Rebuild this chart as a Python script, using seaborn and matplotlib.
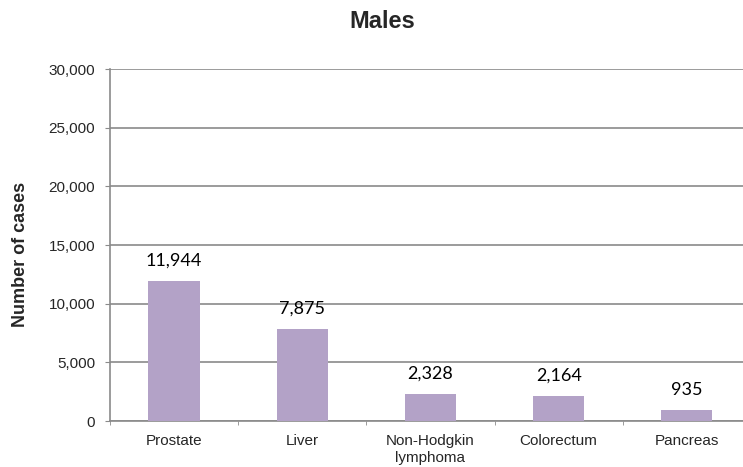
import matplotlib
matplotlib.use('Agg')
import matplotlib.pyplot as plt
import seaborn as sns
import pandas as pd
from matplotlib.ticker import FuncFormatter, FixedLocator

# Data
sites = ['Prostate', 'Liver', 'Non-Hodgkin\nlymphoma', 'Colorectum', 'Pancreas']
cases = [11944, 7875, 2328, 2164, 935]

df = pd.DataFrame({'site': sites, 'cases': cases})

sns.set_style('white')
plt.rcParams['font.family'] = ['Liberation Sans', 'DejaVu Sans']

fig = plt.figure(figsize=(7.43, 4.67), dpi=100)
# axes runs a little past the right edge, like the reference crop
ax = fig.add_axes([0.148, 0.0985, 0.8627, 0.7537])

sns.barplot(data=df, x='site', y='cases', color='#B3A2C7', saturation=1,
            width=0.40, linewidth=0, ax=ax, zorder=3)

# Value labels above bars
for i, v in enumerate(cases):
    ax.annotate(f'{v:,}', (i, v), xytext=(0, 11), textcoords='offset points',
                ha='center', va='baseline', fontsize=13, family='Lato', color='black')

ax.set_ylim(0, 30000)
ax.set_xlim(-0.5, len(sites) - 0.5)
ax.set_yticks(range(0, 30001, 5000))
ax.yaxis.set_major_formatter(FuncFormatter(lambda v, p: f'{int(v):,}'))
ax.yaxis.grid(True, color='#8a8a8a', linewidth=1.2, zorder=0)

# x ticks at category boundaries, labels centered under bars
ax.xaxis.set_minor_locator(FixedLocator([i - 0.5 for i in range(len(sites) + 1)]))
ax.tick_params(axis='x', which='major', length=0, labelsize=11, pad=9)
ax.tick_params(axis='x', which='minor', length=3, color='#8a8a8a', direction='out', bottom=True)
ax.tick_params(axis='y', length=3.6, color='#8a8a8a', direction='out', left=True, labelsize=11, pad=7)
for lbl in ax.get_xticklabels():
    lbl.set_linespacing(1.3)
    lbl.set_va('top')

for s in ['top', 'right']:
    ax.spines[s].set_visible(False)
for s in ['left', 'bottom']:
    ax.spines[s].set_color('#8a8a8a')
    ax.spines[s].set_linewidth(1.2)

ax.set_xlabel('')
ax.set_ylabel('')
fig.text(0.027, 0.456, 'Number of cases', rotation=90, ha='center', va='center',
         fontsize=13, fontweight='bold')
fig.text(0.514, 0.953, 'Males', ha='center', va='center', fontsize=17, fontweight='bold')

fig.savefig('out.png', dpi=100)
